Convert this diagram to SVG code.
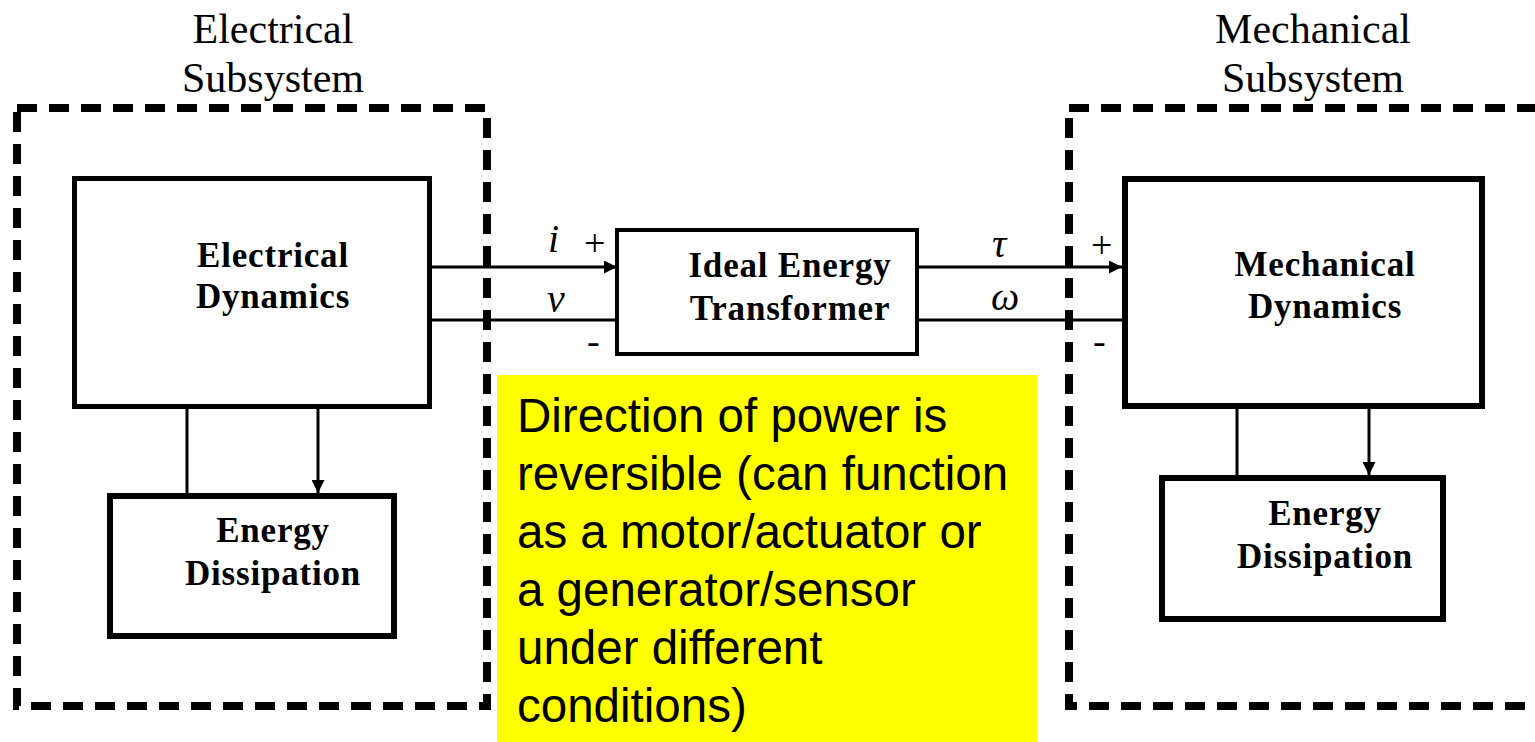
<svg xmlns="http://www.w3.org/2000/svg" width="1535" height="742" viewBox="0 0 1535 742">
<style>
.sub{font-family:"Liberation Serif","Times New Roman",serif;font-size:42px;fill:#000;text-anchor:middle}
.lbl{font-family:"Liberation Serif","Times New Roman",serif;font-size:35px;font-weight:bold;letter-spacing:0.8px;fill:#000;text-anchor:middle}
.sym{font-family:"Liberation Serif","Times New Roman",serif;font-size:40px;font-style:italic;fill:#000}
.pm{font-family:"Liberation Serif","Times New Roman",serif;font-size:38px;fill:#000}
.dash{fill:none;stroke:#000;stroke-width:8;stroke-dasharray:20 12}
.box{fill:#fff;stroke:#000}
.wire{stroke:#000;stroke-width:3;fill:none}
.note{font-family:"Liberation Sans",Arial,sans-serif;font-size:47.5px;fill:#000}
</style>
<defs>
<marker id="ah" viewBox="0 0 10 10" refX="10" refY="5" markerWidth="16" markerHeight="13" markerUnits="userSpaceOnUse" orient="auto">
<path d="M0,0 L10,5 L0,10 Z" fill="#000"/>
</marker>
</defs>
<rect width="1535" height="742" fill="#fff"/>

<g id="electrical-subsystem">
<rect class="dash" x="17" y="108" width="470" height="598"/>
<text class="sub" x="273" y="43">Electrical</text>
<text class="sub" x="273" y="92">Subsystem</text>
</g>
<g id="mechanical-subsystem">
<rect class="dash" x="1069" y="108" width="473" height="598"/>
<text class="sub" x="1313" y="43">Mechanical</text>
<text class="sub" x="1313" y="92">Subsystem</text>
</g>

<g id="connectors">
<line class="wire" x1="430" y1="267" x2="617" y2="267" marker-end="url(#ah)"/>
<line class="wire" x1="430" y1="320" x2="617" y2="320"/>
<line class="wire" x1="918" y1="267" x2="1122" y2="267" marker-end="url(#ah)"/>
<line class="wire" x1="918" y1="320" x2="1122" y2="320"/>
<line class="wire" x1="187" y1="407" x2="187" y2="493"/>
<line class="wire" x1="318" y1="407" x2="318" y2="493" marker-end="url(#ah)"/>
<line class="wire" x1="1237" y1="407" x2="1237" y2="475"/>
<line class="wire" x1="1369" y1="407" x2="1369" y2="475" marker-end="url(#ah)"/>
<text class="sym" x="548" y="252">i</text>
<text class="pm" x="584" y="256">+</text>
<text class="sym" x="547" y="312">v</text>
<text class="pm" x="587" y="354">-</text>
<text class="sym" x="992" y="257">τ</text>
<text class="sym" x="991" y="310">ω</text>
<text class="pm" x="1091" y="258">+</text>
<text class="pm" x="1093" y="354">-</text>
</g>

<g id="electrical-dynamics">
<rect class="box" x="74.5" y="178.5" width="355" height="228" stroke-width="5"/>
<text class="lbl" x="273" y="267">Electrical</text>
<text class="lbl" x="273" y="308">Dynamics</text>
</g>
<g id="electrical-dissipation">
<rect class="box" x="110" y="496" width="284" height="140" stroke-width="6"/>
<text class="lbl" x="273" y="542">Energy</text>
<text class="lbl" x="273" y="585">Dissipation</text>
</g>
<g id="transformer">
<rect class="box" x="617" y="230" width="300" height="124" stroke-width="4"/>
<text class="lbl" x="790" y="277">Ideal Energy</text>
<text class="lbl" x="790" y="320">Transformer</text>
</g>
<g id="mechanical-dynamics">
<rect class="box" x="1125" y="179" width="357" height="227" stroke-width="6"/>
<text class="lbl" x="1325" y="276">Mechanical</text>
<text class="lbl" x="1325" y="318">Dynamics</text>
</g>
<g id="mechanical-dissipation">
<rect class="box" x="1162" y="478" width="281" height="141" stroke-width="6"/>
<text class="lbl" x="1325" y="525">Energy</text>
<text class="lbl" x="1325" y="568">Dissipation</text>
</g>

<g id="note">
<rect x="497" y="375" width="540" height="367" fill="#ffff00"/>
<text class="note" x="517" y="432">Direction of power is</text>
<text class="note" x="517" y="490">reversible (can function</text>
<text class="note" x="517" y="548">as a motor/actuator or</text>
<text class="note" x="517" y="606">a generator/sensor</text>
<text class="note" x="517" y="664">under different</text>
<text class="note" x="517" y="722">conditions)</text>
</g>
</svg>
